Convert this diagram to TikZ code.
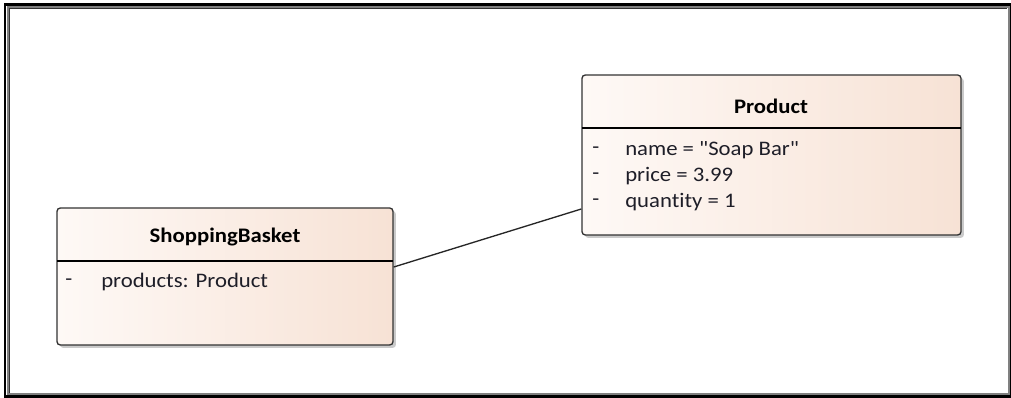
\documentclass[tikz,border=0pt]{standalone}
\usepackage{fontspec}
\setmainfont[FakeStretch=1.1, Ligatures={TeXOff,NoCommon}]{Carlito}
\usetikzlibrary{shadows}
\definecolor{lightend}{HTML}{FEF9F6}
\definecolor{darkend}{HTML}{F7E2D5}
\definecolor{txt}{HTML}{1E1E28}
\tikzset{
  classbox/.style={draw=black!80, line width=1pt, rounded corners=2.5pt,
    left color=lightend, right color=darkend,
    drop shadow={shadow xshift=2.2pt, shadow yshift=-2.2pt, opacity=0.35, fill=black!60}},
  title/.style={font=\fontsize{15.5}{18}\selectfont\bfseries, text=black, inner sep=0pt},
  attr/.style={font=\fontsize{15.5}{18}\selectfont, text=txt, inner sep=0pt, anchor=west},
  sep/.style={draw=black, line width=0.9pt},
  conn/.style={draw=black!85, line width=1pt}
}
\begin{document}
\begin{tikzpicture}[x=0.75pt,y=-0.75pt]
\useasboundingbox (0,0) rectangle (1011,398);
% window frame
\draw[black, line width=1.6pt] (5,4.5) rectangle (1010,396.5);
\draw[black!50, line width=1.5pt] (7.5,7) rectangle (1008.5,394.5);
\draw[black!80, line width=0.6pt] (9,393) -- (9,8.5) -- (1007,8.5);
% Product
\node[classbox, minimum width=284.25pt, minimum height=120pt] (prod) at (771.5,155) {};
\draw[sep] (582,128) -- (961,128);
\node[title] (prodt) at (771,106) {Product};
\node[attr] (pd1) at (592,150) {-};
\node[attr] (pa1) at (625,150) {name = "Soap Bar"};
\node[attr] (pd2) at (592,176) {-};
\node[attr] (pa2) at (625,176) {price = 3.99};
\node[attr] (pd3) at (592,202) {-};
\node[attr] (pa3) at (625,202) {quantity = 1};
% ShoppingBasket
\node[classbox, minimum width=252pt, minimum height=102.75pt] (bask) at (225,276.5) {};
\draw[sep] (57,261) -- (393,261);
\node[title] (baskt) at (225,237) {ShoppingBasket};
\node[attr] (bd1) at (65,282) {-};
\node[attr] (ba1) at (101,282) {products: Product};
% connector
\draw[conn] ([yshift=7.1pt]bask.east) -- ([yshift=-40.5pt]prod.west);
\end{tikzpicture}
\end{document}
